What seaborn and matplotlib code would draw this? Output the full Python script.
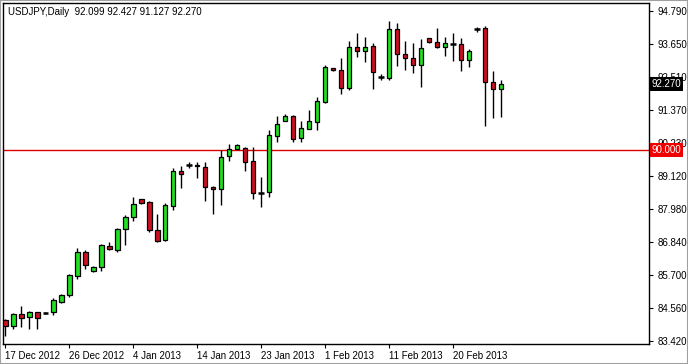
import numpy as np
import pandas as pd
import seaborn as sns
import matplotlib.pyplot as plt
import matplotlib.transforms as mtransforms
from matplotlib.patches import Rectangle

# USDJPY daily bars
opens = [84.13, 83.94, 84.34, 84.24, 84.41, 84.39, 84.41, 84.75, 84.99, 85.67,
         86.48, 85.82, 85.96, 86.69, 86.55, 87.27, 87.68, 88.30, 88.21, 87.24,
         86.89, 88.08, 89.27, 89.49, 89.50, 89.43, 88.74, 88.65, 89.78, 90.03,
         90.06, 89.61, 88.53, 88.54, 90.49, 91.01, 91.17, 90.40, 90.72, 90.98,
         91.67, 92.82, 92.75, 92.13, 93.54, 93.41, 93.58, 92.53, 92.47, 94.16,
         93.30, 93.18, 92.92, 93.85, 93.73, 93.56, 93.66, 93.64, 93.11, 94.17,
         94.19, 92.33, 92.099]
highs = [84.19, 84.39, 84.63, 84.45, 84.43, 84.43, 84.89, 85.04, 85.73, 86.61,
         86.56, 86.00, 86.76, 86.83, 87.33, 87.77, 88.37, 88.32, 88.24, 87.78,
         88.17, 89.37, 89.45, 89.60, 89.60, 89.60, 88.76, 90.00, 90.20, 90.20,
         90.10, 90.09, 89.08, 90.69, 91.16, 91.24, 91.20, 91.00, 91.38, 91.83,
         92.93, 92.84, 93.18, 93.76, 94.02, 93.90, 93.68, 92.61, 94.45, 94.39,
         93.76, 93.70, 93.83, 93.86, 94.19, 93.88, 94.02, 93.85, 93.47, 94.25,
         94.27, 92.72, 92.427]
lows = [83.60, 83.82, 83.91, 83.84, 83.84, 84.35, 84.32, 84.72, 84.95, 85.57,
        85.91, 85.80, 85.84, 86.55, 86.49, 86.73, 87.55, 88.15, 87.19, 86.84,
        86.87, 87.93, 88.68, 89.39, 89.05, 88.25, 87.79, 88.10, 89.61, 90.00,
        89.29, 88.31, 88.03, 88.39, 90.27, 91.00, 90.29, 90.29, 90.71, 90.70,
        91.61, 92.72, 91.94, 92.08, 93.22, 93.04, 92.11, 92.42, 92.41, 92.91,
        92.76, 92.64, 92.18, 93.68, 93.53, 93.25, 93.07, 92.73, 92.87, 94.08,
        90.84, 91.09, 91.127]
closes = [83.92, 84.34, 84.20, 84.41, 84.20, 84.39, 84.83, 85.00, 85.69, 86.48,
          86.05, 85.96, 86.72, 86.58, 87.27, 87.68, 88.13, 88.19, 87.24, 86.88,
          88.10, 89.28, 89.19, 89.49, 89.45, 88.74, 88.65, 89.77, 90.03, 90.16,
          89.60, 88.51, 88.53, 90.51, 90.89, 91.16, 90.39, 90.75, 91.00, 91.68,
          92.85, 92.75, 92.13, 93.54, 93.40, 93.56, 92.70, 92.53, 94.16, 93.30,
          93.18, 92.92, 93.50, 93.73, 93.56, 93.68, 93.66, 93.11, 93.40, 94.17,
          92.33, 92.10, 92.270]

date_ticks = [0, 8, 16, 24, 32, 40, 48, 56]
date_labels = ["17 Dec 2012", "26 Dec 2012", "4 Jan 2013", "14 Jan 2013",
               "23 Jan 2013", "1 Feb 2013", "11 Feb 2013", "20 Feb 2013"]
price_ticks = [94.790, 93.650, 92.510, 91.370, 90.230, 89.120,
               87.980, 86.840, 85.700, 84.560, 83.420]
level_line = 90.000
last_close = 92.270

df = pd.DataFrame({"open": opens, "high": highs, "low": lows, "close": closes})
df["bar"] = np.arange(len(df))

sns.set_style("white")
plt.rcParams["font.family"] = ["Liberation Sans", "DejaVu Sans"]

fig = plt.figure(figsize=(6.88, 3.64), dpi=100)
ax = fig.add_axes([3 / 688, 20 / 364, 646 / 688, 341 / 364])

bull = "#22e022"
bear = "#d01020"

# wicks
ax.vlines(df["bar"], df["low"], df["high"], color="black", linewidth=1, zorder=2)

# bodies
body = df[df["close"] != df["open"]]
colors = np.where(body["close"] > body["open"], bull, bear)
ax.bar(body["bar"], body["close"] - body["open"], bottom=body["open"],
       width=0.55, color=colors, edgecolor="black", linewidth=0.9, zorder=3)

# doji crosses
doji = df[df["close"] == df["open"]]
ax.hlines(doji["open"], doji["bar"] - 0.35, doji["bar"] + 0.35,
          color="black", linewidth=1.8, zorder=3)

ax.axhline(level_line, color="#dd0000", linewidth=1, zorder=1)

ax.set_xlim(-0.3, 80.5)
ax.set_ylim(83.317, 95.066)

ax.yaxis.tick_right()
ax.set_yticks(price_ticks)
ax.set_yticklabels([f"{v:.3f}" for v in price_ticks])
ax.set_xticks(date_ticks)
ax.set_xticklabels(date_labels, ha="left")
ax.tick_params(axis="y", which="both", right=True, left=False, length=3,
               width=0.8, direction="out", labelsize=7, pad=3, colors="black")
ax.tick_params(axis="x", which="both", bottom=True, length=3, width=0.8,
               direction="out", labelsize=7, pad=2, colors="black")
for s in ax.spines.values():
    s.set_color("black")
    s.set_linewidth(1)

trans = mtransforms.blended_transform_factory(ax.transAxes, ax.transData)
ax.text(1.004, last_close, f"{last_close:.3f}", transform=trans, ha="left",
        va="center", color="white", fontsize=7, zorder=5,
        bbox=dict(boxstyle="square,pad=0.2", fc="black", ec="none"))
ax.text(1.004, level_line, f"{level_line:.3f}", transform=trans, ha="left",
        va="center", color="white", fontsize=7, zorder=5,
        bbox=dict(boxstyle="square,pad=0.2", fc="#ee0000", ec="none"))

fig.text(8 / 688, 1 - 12 / 364,
         "USDJPY,Daily  92.099 92.427 91.127 92.270",
         ha="left", va="center", fontsize=7, color="black")

fig.patches.append(Rectangle((0, 0), 1, 1, transform=fig.transFigure,
                             fill=False, edgecolor="#a0a0a0", linewidth=1.5))

fig.savefig("out.png", dpi=100)
